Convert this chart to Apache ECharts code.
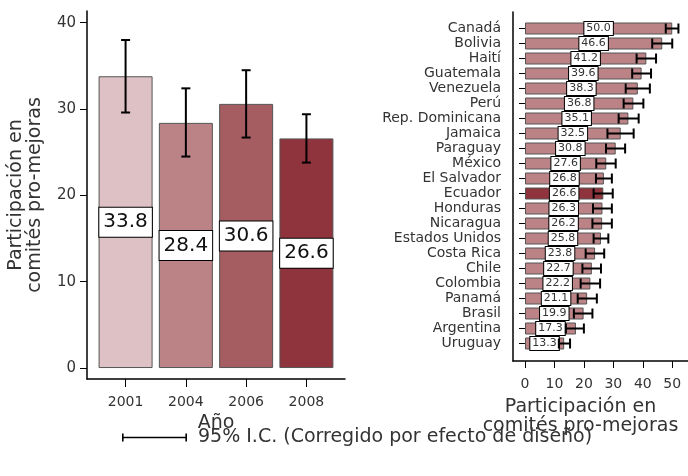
<!DOCTYPE html>
<html>
<head>
<meta charset="utf-8">
<script src="https://cdn.jsdelivr.net/npm/echarts@6/dist/echarts.min.js"></script>
<style>
  html, body { margin: 0; padding: 0; background: #fff; }
  #chart { width: 688px; height: 476px; }
</style>
</head>
<body>
<div id="chart"></div>
<script>
// Participación por año (panel izquierdo)
const years = ['2001', '2004', '2006', '2008'];
const pctYear = [33.8, 28.4, 30.6, 26.6];
const ciLowYear = [29.6, 24.5, 26.7, 23.8];
const ciHighYear = [38.0, 32.4, 34.5, 29.4];
const yTicks = [0, 10, 20, 30, 40];

// Participación por país, 2008 (panel derecho)
const countries = ['Canadá', 'Bolivia', 'Haití', 'Guatemala', 'Venezuela', 'Perú',
  'Rep. Dominicana', 'Jamaica', 'Paraguay', 'México', 'El Salvador', 'Ecuador',
  'Honduras', 'Nicaragua', 'Estados Unidos', 'Costa Rica', 'Chile', 'Colombia',
  'Panamá', 'Brasil', 'Argentina', 'Uruguay'];
const pctCountry = [50.0, 46.6, 41.2, 39.6, 38.3, 36.8, 35.1, 32.5, 30.8, 27.6, 26.8,
  26.6, 26.3, 26.2, 25.8, 23.8, 22.7, 22.2, 21.1, 19.9, 17.3, 13.3];
const ciLowCountry = [47.8, 43.2, 37.9, 36.4, 34.2, 33.5, 31.8, 28.0, 27.5, 24.2, 24.1,
  23.3, 23.1, 22.9, 23.3, 20.6, 19.5, 18.9, 17.9, 16.6, 13.9, 11.5];
const ciHighCountry = [52.1, 50.0, 44.5, 42.8, 42.4, 40.2, 38.6, 36.9, 34.0, 30.8, 29.5,
  29.8, 29.5, 29.5, 28.3, 26.9, 25.8, 25.5, 24.4, 22.9, 20.0, 15.3];
const xTicksCountry = [0, 10, 20, 30, 40, 50];
const highlightCountry = 'Ecuador';

const ciName = '95% I.C. (Corregido por efecto de diseño)';
const axisTitle = 'Participación en\ncomités pro-mejoras';

// Styles
const yearColors = ['#dec1c4', '#bc8387', '#a55d62', '#8f343d'];
const countryColor = '#bc8387';
const highlightColor = '#8f343d';
const barBorder = '#555';
const FONT = 'DejaVu Sans';

const chart = echarts.init(document.getElementById('chart'), null, { renderer: 'canvas' });

// Vertical error bar with caps (left panel)
function vErrorBar(params, api) {
  const x = api.value(0);
  const lo = api.coord([x, api.value(1)]);
  const hi = api.coord([x, api.value(2)]);
  const hw = 4.5;
  const st = { stroke: '#000', lineWidth: 2 };
  return {
    type: 'group',
    children: [
      { type: 'line', shape: { x1: lo[0], y1: lo[1], x2: hi[0], y2: hi[1] }, style: st },
      { type: 'line', shape: { x1: lo[0] - hw, y1: lo[1], x2: lo[0] + hw, y2: lo[1] }, style: st },
      { type: 'line', shape: { x1: hi[0] - hw, y1: hi[1], x2: hi[0] + hw, y2: hi[1] }, style: st }
    ]
  };
}

// Horizontal error bar with caps (right panel)
function hErrorBar(params, api) {
  const c = api.value(0);
  const lo = api.coord([api.value(1), c]);
  const hi = api.coord([api.value(2), c]);
  const hh = 5;
  const st = { stroke: '#000', lineWidth: 2 };
  return {
    type: 'group',
    children: [
      { type: 'line', shape: { x1: lo[0], y1: lo[1], x2: hi[0], y2: hi[1] }, style: st },
      { type: 'line', shape: { x1: lo[0], y1: lo[1] - hh, x2: lo[0], y2: lo[1] + hh }, style: st },
      { type: 'line', shape: { x1: hi[0], y1: hi[1] - hh, x2: hi[0], y2: hi[1] + hh }, style: st }
    ]
  };
}

const axisLineStyle = { show: true, onZero: false, lineStyle: { color: '#000', width: 1.5 } };
const gridBase = { containLabel: false, outerBoundsMode: 'none' };

const option = {
  animation: false,
  textStyle: { fontFamily: FONT, color: '#333' },
  legend: {
    left: 117,
    top: 423,
    itemWidth: 65,
    itemHeight: 8,
    textStyle: { fontFamily: FONT, fontSize: 19, color: '#333', padding: [0, 0, 0, 6] },
    data: [{
      name: ciName,
      icon: 'path://M0,0h1.6v8h-1.6z M63.4,0h1.6v8h-1.6z M0,3.2h65v1.6h-65z'
    }],
    selectedMode: false
  },
  grid: [
    Object.assign({ left: 87, right: 343, top: 11, bottom: 97 }, gridBase),
    Object.assign({ left: 513, right: 0, top: 21, bottom: 125 }, gridBase),
    Object.assign({ left: 513, right: 0, top: 12, bottom: 115 }, gridBase)
  ],
  xAxis: [
    {
      gridIndex: 0, type: 'value', min: -0.64, max: 3.64,
      axisLine: axisLineStyle,
      axisTick: { show: true, length: 8, customValues: [0, 1, 2, 3], lineStyle: { color: '#000' } },
      axisLabel: {
        customValues: [0, 1, 2, 3], margin: 16, fontSize: 14, color: '#333',
        formatter: v => years[Math.round(v)]
      },
      splitLine: { show: false },
      name: 'Año', nameLocation: 'middle', nameGap: 32,
      nameTextStyle: { fontSize: 19, color: '#333' }
    },
    {
      gridIndex: 1, type: 'value', min: -4.07, max: 55.35, offset: 10,
      axisLine: axisLineStyle,
      axisTick: { show: true, length: 7, customValues: xTicksCountry, lineStyle: { color: '#000' } },
      axisLabel: { customValues: xTicksCountry, margin: 16, fontSize: 14, color: '#333' },
      splitLine: { show: false },
      name: axisTitle, nameLocation: 'middle', nameGap: 37,
      nameTextStyle: { fontSize: 19, color: '#333', lineHeight: 19, padding: [0, 40, 0, 0] }
    },
    { gridIndex: 2, type: 'value', show: false, min: 0, max: 1 }
  ],
  yAxis: [
    {
      gridIndex: 0, type: 'value', min: -1.27, max: 41.36,
      axisLine: axisLineStyle,
      axisTick: { show: true, length: 7, customValues: yTicks, lineStyle: { color: '#000' } },
      axisLabel: { customValues: yTicks, margin: 11, fontSize: 15, color: '#333' },
      splitLine: { show: false },
      name: axisTitle, nameLocation: 'middle', nameGap: 42, nameRotate: 90,
      nameTextStyle: { fontSize: 19, color: '#333', lineHeight: 19 }
    },
    {
      gridIndex: 1, type: 'category', data: countries, inverse: true,
      axisLine: { show: false },
      axisTick: { show: true, length: 6, alignWithLabel: true, interval: 0, lineStyle: { color: '#000' } },
      axisLabel: { interval: 0, margin: 12, fontSize: 14, color: '#333' },
      splitLine: { show: false }
    },
    {
      gridIndex: 2, type: 'value', min: 0, max: 1,
      axisLine: axisLineStyle,
      axisTick: { show: false }, axisLabel: { show: false }, splitLine: { show: false }
    }
  ],
  series: [
    {
      type: 'bar', xAxisIndex: 0, yAxisIndex: 0, barWidth: 54,
      data: pctYear.map((v, i) => ({
        value: [i, v],
        itemStyle: { color: yearColors[i], borderColor: barBorder, borderWidth: 1 }
      })),
      label: {
        show: true, position: 'inside', formatter: p => p.value[1].toFixed(1),
        fontSize: 20, color: '#111', backgroundColor: '#fff',
        borderColor: '#000', borderWidth: 1, padding: [5, 4, 4, 4]
      },
      z: 2
    },
    {
      type: 'custom', name: ciName, xAxisIndex: 0, yAxisIndex: 0,
      renderItem: vErrorBar, clip: false,
      itemStyle: { color: '#000' },
      encode: { x: 0, y: [1, 2] },
      data: years.map((y, i) => [i, ciLowYear[i], ciHighYear[i]]),
      z: 3
    },
    {
      type: 'bar', xAxisIndex: 1, yAxisIndex: 1, barWidth: 12,
      data: pctCountry.map((v, i) => ({
        value: v,
        itemStyle: {
          color: countries[i] === highlightCountry ? highlightColor : countryColor,
          borderColor: barBorder, borderWidth: 1
        }
      })),
      label: {
        show: true, position: 'inside', formatter: p => p.value.toFixed(1),
        fontSize: 11, color: '#333', backgroundColor: '#fff',
        borderColor: '#000', borderWidth: 1, padding: [1, 2, 1, 2]
      },
      z: 2
    },
    {
      type: 'custom', name: ciName, xAxisIndex: 1, yAxisIndex: 1,
      renderItem: hErrorBar, clip: false,
      itemStyle: { color: '#000' },
      encode: { y: 0, x: [1, 2] },
      data: countries.map((c, i) => [i, ciLowCountry[i], ciHighCountry[i]]),
      z: 3
    }
  ]
};

chart.setOption(option);
</script>
</body>
</html>
